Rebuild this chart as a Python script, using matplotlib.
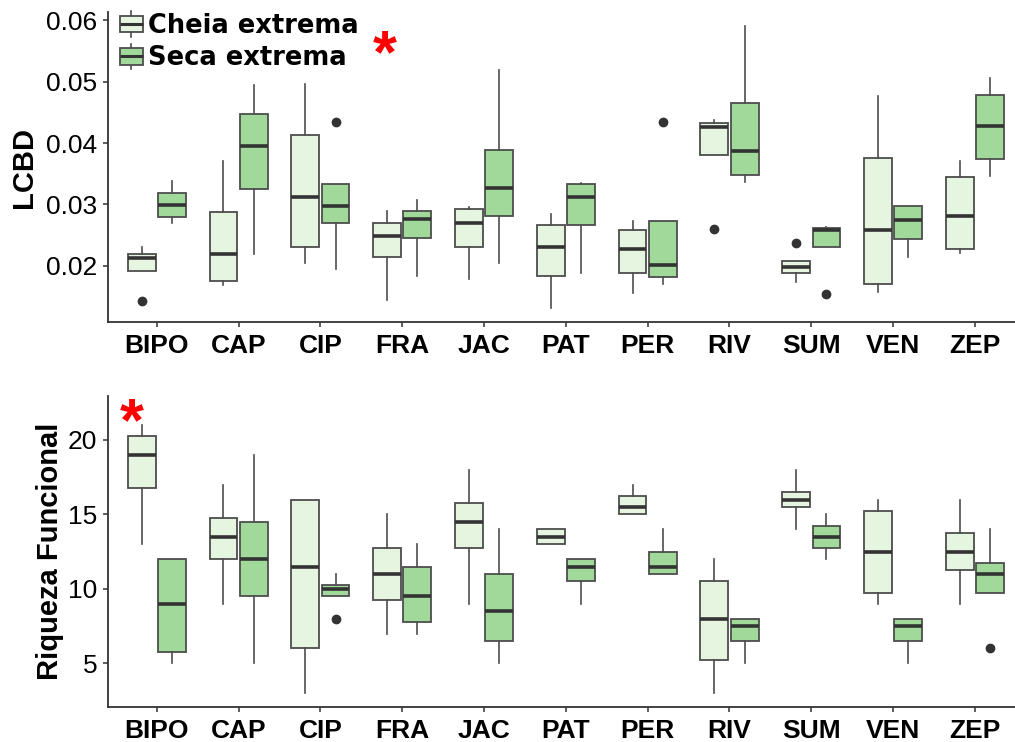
import matplotlib
matplotlib.use("Agg")
import matplotlib.pyplot as plt
import matplotlib.transforms as mtransforms
from matplotlib.patches import Patch, Rectangle
from matplotlib.lines import Line2D
from matplotlib.legend_handler import HandlerBase

# ---- data -------------------------------------------------------------
sites = ["BIPO", "CAP", "CIP", "FRA", "JAC", "PAT", "PER", "RIV", "SUM", "VEN", "ZEP"]
groups = ["Cheia extrema", "Seca extrema"]

# five-number summaries per site: (lower whisker, Q1, median, Q3, upper whisker)
lcbd_cheia = [
    (0.0192, 0.0192, 0.0212, 0.0219, 0.0231),
    (0.0168, 0.0176, 0.0219, 0.0287, 0.0371),
    (0.0205, 0.0230, 0.0312, 0.0413, 0.0497),
    (0.0145, 0.0214, 0.0249, 0.0269, 0.0290),
    (0.0178, 0.0231, 0.0270, 0.0292, 0.0296),
    (0.0132, 0.0183, 0.0231, 0.0267, 0.0284),
    (0.0156, 0.0188, 0.0227, 0.0259, 0.0273),
    (0.0381, 0.0381, 0.0426, 0.0432, 0.0437),
    (0.0174, 0.0189, 0.0198, 0.0208, 0.0208),
    (0.0157, 0.0170, 0.0259, 0.0376, 0.0476),
    (0.0221, 0.0227, 0.0282, 0.0344, 0.0371),
]
lcbd_cheia_out = [[0.0143], [], [], [], [], [], [], [0.0260], [0.0238], [], []]

lcbd_seca = [
    (0.0270, 0.0280, 0.0299, 0.0319, 0.0338),
    (0.0220, 0.0325, 0.0396, 0.0447, 0.0495),
    (0.0195, 0.0270, 0.0298, 0.0334, 0.0334),
    (0.0183, 0.0246, 0.0276, 0.0290, 0.0308),
    (0.0204, 0.0282, 0.0327, 0.0388, 0.0519),
    (0.0189, 0.0266, 0.0312, 0.0333, 0.0335),
    (0.0171, 0.0182, 0.0202, 0.0273, 0.0273),
    (0.0336, 0.0348, 0.0387, 0.0465, 0.0591),
    (0.0231, 0.0231, 0.0258, 0.0261, 0.0264),
    (0.0214, 0.0243, 0.0275, 0.0297, 0.0297),
    (0.0347, 0.0374, 0.0427, 0.0478, 0.0506),
]
lcbd_seca_out = [[], [], [0.0435], [], [], [], [0.0435], [], [0.0154], [], []]

riq_cheia = [
    (13, 16.75, 19, 20.25, 21),
    (9, 12, 13.5, 14.75, 17),
    (3, 6, 11.5, 16, 16),
    (7, 9.25, 11, 12.75, 15),
    (9, 12.75, 14.5, 15.75, 18),
    (13, 13, 13.5, 14, 14),
    (15, 15, 15.5, 16.25, 17),
    (3, 5.25, 8, 10.5, 12),
    (14, 15.5, 16, 16.5, 18),
    (9, 9.75, 12.5, 15.25, 16),
    (9, 11.25, 12.5, 13.75, 16),
]
riq_cheia_out = [[], [], [], [], [], [], [], [], [], [], []]

riq_seca = [
    (5, 5.75, 9, 12, 12),
    (5, 9.5, 12, 14.5, 19),
    (9.5, 9.5, 10, 10.25, 11),
    (7, 7.75, 9.5, 11.5, 13),
    (5, 6.5, 8.5, 11, 14),
    (9, 10.5, 11.5, 12, 12),
    (11, 11, 11.5, 12.5, 14),
    (5, 6.5, 7.5, 8, 8),
    (12, 12.75, 13.5, 14.25, 15),
    (5, 6.5, 7.5, 8, 8),
    (9.75, 9.75, 11, 11.75, 14),
]
riq_seca_out = [[], [], [8], [], [], [], [], [], [], [], [6]]

lcbd_ticks = [0.02, 0.03, 0.04, 0.05, 0.06]
riq_ticks = [5, 10, 15, 20]

# significance marks (x in category units, y in data units)
lcbd_star = (3.78, 0.0562)
riq_star = (0.69, 21.9)

# ---- style ------------------------------------------------------------
fill_colors = ["#e5f5e0", "#a1d99b"]
edge_col = "#4d4d4d"
median_col = "#333333"
axis_col = "#333333"

plt.rcParams["font.family"] = ["Liberation Sans", "DejaVu Sans"]

fig = plt.figure(figsize=(10.15, 7.42), dpi=100)
W, H = 1015.0, 742.0
ax_top = fig.add_axes([107.7 / W, 1 - 321.7 / H, (1024 - 107.7) / W, (321.7 - 11.7) / H])
ax_bot = fig.add_axes([107.7 / W, 1 - 707.3 / H, (1024 - 107.7) / W, (707.3 - 396.0) / H])

offsets = [-0.185, 0.185]
box_w = 0.34


def make_stats(summary, outliers):
    out = []
    for (lo, q1, med, q3, hi), fl in zip(summary, outliers):
        out.append(dict(whislo=lo, q1=q1, med=med, q3=q3, whishi=hi, fliers=fl))
    return out


def draw_panel(ax, series, outs, ylim, yticks, ytick_labels):
    pos0 = list(range(1, len(sites) + 1))
    for k, (summ, fl) in enumerate(zip(series, outs)):
        stats = make_stats(summ, fl)
        ax.bxp(
            stats,
            positions=[p + offsets[k] for p in pos0],
            widths=box_w,
            patch_artist=True,
            showcaps=False,
            boxprops=dict(facecolor=fill_colors[k], edgecolor=edge_col, linewidth=1.3),
            whiskerprops=dict(color=edge_col, linewidth=1.2),
            medianprops=dict(color=median_col, linewidth=2.6, solid_capstyle="butt"),
            flierprops=dict(marker="o", markerfacecolor=median_col, markeredgecolor=median_col,
                            markersize=6),
            manage_ticks=False,
        )
    ax.set_xlim(0.4, len(sites) + 0.6)
    ax.set_ylim(*ylim)
    ax.set_xticks(pos0)
    ax.set_xticklabels(sites, fontsize=19, fontweight="bold", color="black")
    ax.set_yticks(yticks)
    ax.set_yticklabels(ytick_labels, fontsize=19, color="black")
    for s in ("top", "right"):
        ax.spines[s].set_visible(False)
    for s in ("left", "bottom"):
        ax.spines[s].set_color(axis_col)
        ax.spines[s].set_linewidth(1.3)
    ax.tick_params(axis="both", direction="out", length=3.5, width=1.1, color=axis_col)
    ax.tick_params(axis="x", pad=5)
    ax.tick_params(axis="y", pad=4)
    ax.set_facecolor("white")


draw_panel(ax_top, [lcbd_cheia, lcbd_seca], [lcbd_cheia_out, lcbd_seca_out],
           (0.0109, 0.0614), lcbd_ticks, [f"{t:.2f}" for t in lcbd_ticks])
draw_panel(ax_bot, [riq_cheia, riq_seca], [riq_cheia_out, riq_seca_out],
           (2.05, 22.95), riq_ticks, [str(t) for t in riq_ticks])

# axis titles
fig.text(32 / W, 1 - 167 / H, "LCBD", rotation=90, rotation_mode="anchor",
         ha="center", va="baseline", fontsize=21, fontweight="bold")
fig.text(58 / W, 1 - 551.5 / H, "Riqueza Funcional", rotation=90, rotation_mode="anchor",
         ha="center", va="baseline", fontsize=21, fontweight="bold")

# red significance asterisks (the glyph sits high in its box, so nudge it down)
for ax, (sx, sy) in ((ax_top, lcbd_star), (ax_bot, riq_star)):
    tr = mtransforms.offset_copy(ax.transData, fig=fig, x=0, y=-13.5, units="dots")
    ax.text(sx, sy, "*", color="red", fontsize=44, fontweight="bold",
            ha="center", va="center", clip_on=False, transform=tr)


# legend with small boxplot glyphs
class BoxGlyph(HandlerBase):
    def create_artists(self, legend, orig_handle, xdescent, ydescent, width, height,
                       fontsize, trans):
        x0, y0 = -xdescent, -ydescent
        cy = y0 + height / 2
        bh = height
        whisker = Line2D([x0 + width / 2] * 2, [cy - bh * 0.78, cy + bh * 0.78],
                         color=edge_col, lw=1.2, transform=trans)
        rect = Rectangle((x0, cy - bh / 2), width, bh, facecolor=orig_handle.get_facecolor(),
                         edgecolor=edge_col, lw=1.3, transform=trans)
        med = Line2D([x0, x0 + width], [cy, cy], color=median_col, lw=2.2,
                     solid_capstyle="butt", transform=trans)
        return [whisker, rect, med]


handles = [Patch(facecolor=c, edgecolor=edge_col) for c in fill_colors]
leg = ax_top.legend(handles, groups, handler_map={Patch: BoxGlyph()},
                    loc="upper left", bbox_to_anchor=(119.5 / W, 1 - 13 / H),
                    bbox_transform=fig.transFigure, frameon=False,
                    borderaxespad=0, borderpad=0, handlelength=0.93, handleheight=0.61,
                    handletextpad=0.18, labelspacing=0.25,
                    prop=dict(family="DejaVu Sans", weight="bold", size=18.5))

fig.savefig("out.png", dpi=100, facecolor="white")
